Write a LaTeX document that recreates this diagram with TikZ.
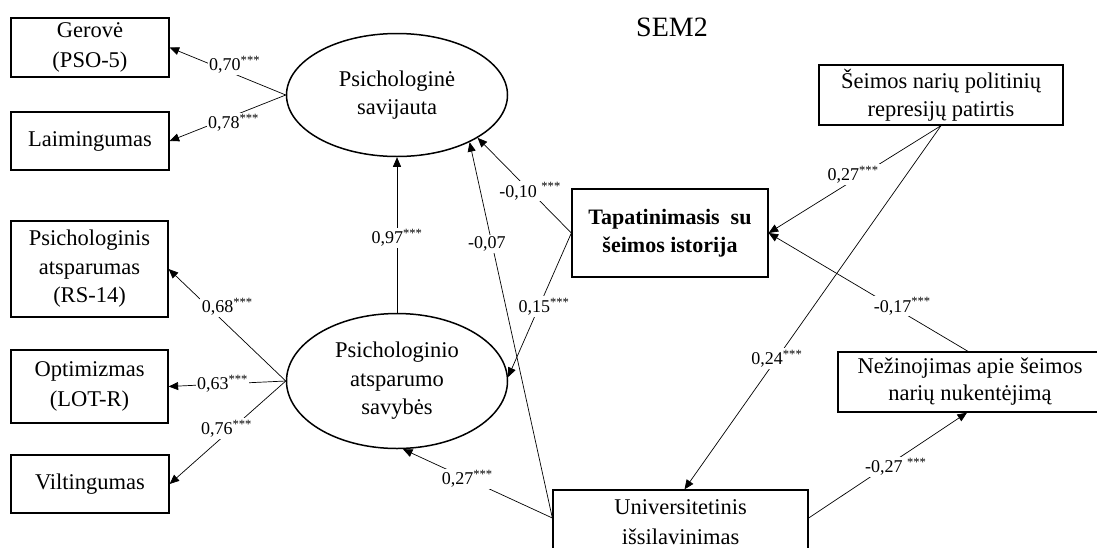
\documentclass[tikz,border=0pt]{standalone}
\usepackage{fontspec}
\setmainfont{Liberation Serif}
\usetikzlibrary{shapes.geometric,arrows.meta}
\begin{document}
\begin{tikzpicture}[x=1pt,y=-1pt,
  box/.style={draw,line width=1.3pt,inner sep=0pt,align=center,font=\fontsize{22.5}{28.5}\selectfont},
  ell/.style={ellipse,draw,line width=1.5pt,inner sep=0pt,align=center,font=\fontsize{22.5}{28.5}\selectfont},
  conn/.style={line width=0.7pt,-{Triangle[length=9.5pt,width=8pt]}},
  lab/.style={fill=white,inner sep=1.5pt,font=\fontsize{18}{20}\selectfont}]
\useasboundingbox (0,0) rectangle (1097,547);

% title
\node (title) at (672,27) {\fontsize{28}{32}\selectfont SEM2};

% indicator boxes
\node[box,minimum width=158pt,minimum height=59pt,font=\fontsize{22.5}{30}\selectfont] (ger) at (90,47.5) {Gerovė\\(PSO-5)};
\node[box,minimum width=158pt,minimum height=58pt] (laim) at (90,141) {Laimingumas};
\node[box,minimum width=157pt,minimum height=96pt] (rs) at (89.5,269) {Psichologinis\\atsparumas\\(RS-14)};
\node[box,minimum width=157pt,minimum height=73pt,font=\fontsize{22.5}{29.5}\selectfont] (opt) at (89.5,386.5) {Optimizmas\\(LOT-R)};
\node[box,minimum width=158pt,minimum height=58pt] (vil) at (90,484) {Viltingumas};

% latent ellipses
\node[ell,minimum width=221pt,minimum height=123pt] (e1) at (397,95) {Psichologinė\\savijauta};
\node[ell,minimum width=221pt,minimum height=135pt] (e2) at (397,381) {Psichologinio\\atsparumo\\savybės};

% other boxes
\node[box,minimum width=196pt,minimum height=88pt,font=\fontsize{22}{28}\selectfont\bfseries] (tap) at (670,233) {Tapatinimasis~ su\\šeimos istorija};
\node[box,minimum width=244pt,minimum height=60pt] (seim) at (941,95) {Šeimos narių politinių\\represijų patirtis};
\node[box,minimum width=270pt,minimum height=60pt,font=\fontsize{22.5}{27}\selectfont] (nez) at (973,382) {\hspace*{-6pt}Nežinojimas apie šeimos\\\hspace*{-6pt}narių nukentėjimą};
\node[box,minimum width=255pt,minimum height=64pt,font=\fontsize{22.5}{30}\selectfont] (univ) at (680.5,522) {Universitetinis\\išsilavinimas};

\coordinate (uL) at ([yshift=4pt]univ.west);
\coordinate (uR) at ([yshift=4pt]univ.east);
\coordinate (uT) at ([xshift=4pt]univ.north);
\coordinate (nT) at ([xshift=-5pt]nez.north);
\coordinate (nB) at ([xshift=-6pt]nez.south);

% loadings
\draw[conn] (e1.west) -- node[lab,pos=0.44,yshift=9pt] {0,70\textsuperscript{***}} (ger.east);
\draw[conn] (e1.west) -- node[lab,pos=0.45,yshift=-7pt] {0,78\textsuperscript{***}} (laim.east);
\draw[conn] (e2.west) -- node[lab,pos=0.5,yshift=18pt] {0,68\textsuperscript{***}} (rs.east);
\draw[conn] (e2.west) -- node[lab,pos=0.54] {0,63\textsuperscript{***}} (opt.east);
\draw[conn] (e2.west) -- node[lab,pos=0.51,yshift=5pt] {0,76\textsuperscript{***}} (vil.east);

% structural paths
\draw[conn] (e2.north) -- node[lab,pos=0.48] {0,97\textsuperscript{***}} (e1.south);
\draw[conn] (uL) -- node[lab,pos=0.73,xshift=-5pt] {-0,07} (e1.-33);
\draw[conn] (tap.west) -- node[lab,pos=0.44] {-0,10 \textsuperscript{***}} (e1.-28);
\draw[conn] (tap.west) -- node[lab,pos=0.51,xshift=5pt] {0,15\textsuperscript{***}} (e2.2);
\draw[conn] (uL) -- node[lab,pos=0.57] {0,27\textsuperscript{***}} (e2.-85);
\draw[conn] (seim.south) -- node[lab,pos=0.51,yshift=6pt] {0,27\textsuperscript{***}} (tap.east);
\draw[conn] (seim.south) -- node[lab,pos=0.64] {0,24\textsuperscript{***}} (uT);
\draw[conn] (nT) -- node[lab,pos=0.33,yshift=6pt] {-0,17\textsuperscript{***}} (tap.east);
\draw[conn] (uR) -- node[lab,pos=0.55,yshift=-7pt] {-0,27 \textsuperscript{***}} (nB);
\end{tikzpicture}
\end{document}
